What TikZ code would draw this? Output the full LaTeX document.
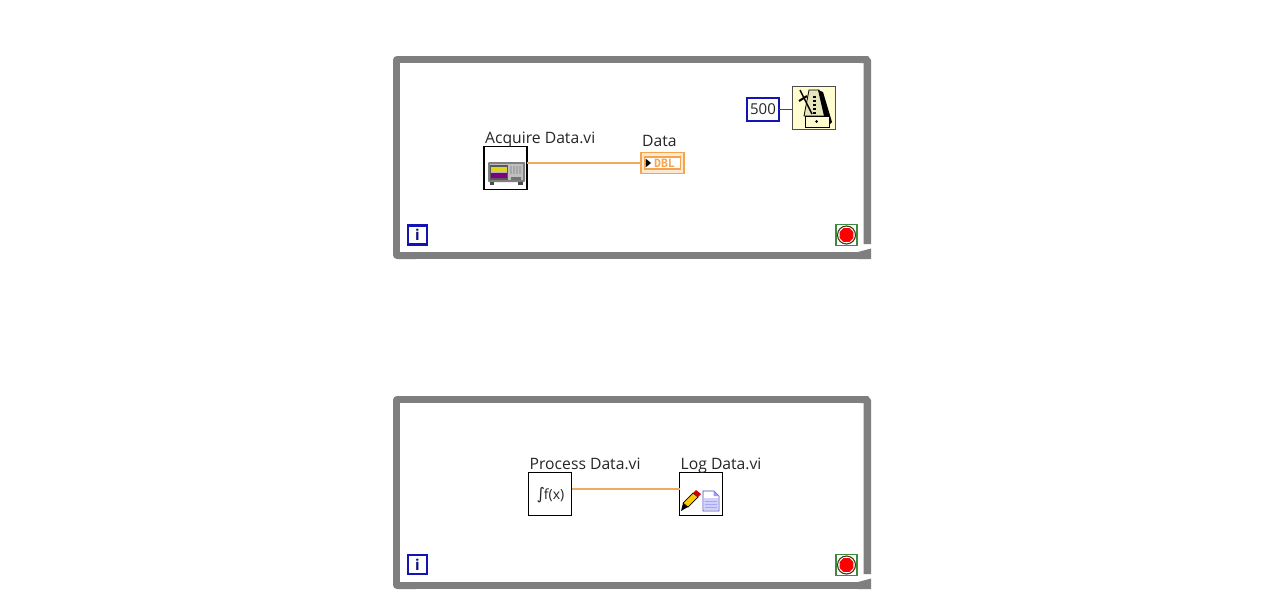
\documentclass[tikz,border=0pt]{standalone}
\usepackage{fontspec}
\setmainfont{Open Sans}
\newfontfamily\monob{DejaVu Sans Mono}
\newfontfamily\dejavu{DejaVu Sans}
\usetikzlibrary{shapes.geometric}
\definecolor{framegray}{HTML}{7F7F7F}
\definecolor{wireor}{HTML}{EFA961}
\definecolor{dblor}{HTML}{F4A54E}
\definecolor{lvblue}{HTML}{1414B4}
\definecolor{wireblue}{HTML}{1E3CFF}
\definecolor{stopgreen}{HTML}{3C8C3C}
\definecolor{metbg}{HTML}{FFFDCF}
\tikzset{
 x=1pt,y=-1pt,
 vibox/.style={draw=black,fill=white,line width=1.3pt,minimum width=43pt,minimum height=43pt,inner sep=0pt,outer sep=0pt},
 lab/.style={font=\fontsize{15.7}{16}\selectfont,inner sep=0pt,text=black!85},
 wire/.style={draw=wireor,line width=1.5pt},
 bwire/.style={draw=wireblue,line width=1.7pt},
 iterbox/.style={draw=lvblue,fill=white,line width=2.6pt,minimum width=19pt,minimum height=19pt,inner sep=0pt,outer sep=0pt,font=\bfseries\fontsize{15}{15}\selectfont,text=lvblue!70!black},
 stopbox/.style={draw=stopgreen,fill=white,line width=1.6pt,minimum width=21pt,minimum height=21pt,inner sep=0pt,outer sep=0pt},
 stopring/.style={circle,fill=white,draw=black!60!brown,line width=1.1pt,minimum size=18pt,inner sep=0pt},
 stopsign/.style={regular polygon,regular polygon sides=8,fill=red,draw=none,minimum size=15pt,inner sep=0pt},
}
\newcommand{\loopframe}[2]{%
 % rounded outer corners on the left
 \fill[framegray,rounded corners=4pt] (393,#1) rectangle (420,#1+20);
 \fill[framegray,rounded corners=4pt] (393,#2-20) rectangle (420,#2);
 \fill[white] (400,#1+7) rectangle (425,#1+25);
 \fill[white] (400,#2-25) rectangle (425,#2-7);
 % straight runs
 \fill[framegray] (393,#1+10) rectangle (400,#2-10);
 \fill[framegray] (410,#1) rectangle (868,#1+7);
 \fill[framegray] (410,#2-7) rectangle (860,#2);
 % right side, chamfered at the top, cut square at the foot
 \fill[framegray] (860,#1) -- (868,#1) -- (871,#1+4) -- (871,#2-15) -- (863.5,#2-15) -- (863.5,#1+7) -- (860,#1+7) -- cycle;
 % right end of the bottom side rises a little
 \fill[framegray] (858,#2-7) -- (871,#2-10.5) -- (871,#2) -- (858,#2) -- cycle;
}
\begin{document}
\begin{tikzpicture}
\useasboundingbox (0,0) rectangle (1280,598);
\fill[white] (0,0) rectangle (1280,598);
\loopframe{56}{259}
\loopframe{396}{589}
% top loop
\node[vibox] (acq) at (505.5,168) {};
\node[lab,anchor=base west] (acqlab) at (485,143) {Acquire Data.vi};
\node[draw=dblor,fill=dblor!25,line width=1.4pt,minimum width=43pt,minimum height=21pt,inner sep=0pt,outer sep=0pt] (dbl) at (662.5,163) {};
\node[draw=dblor,fill=white,line width=1.1pt,minimum width=36pt,minimum height=12pt,inner sep=0pt] (dblin) at (662.5,163) {};
\node[inner sep=0pt,font=\monob\bfseries\fontsize{11.5}{10}\selectfont,text=dblor] (dbltxt) at (664.5,163) {DBL};
\fill[black] (645.5,158.5) -- (651,163) -- (645.5,167.5) -- cycle;
\node[lab,anchor=base west] (datalab) at (642,146) {Data};
\draw[wire] (acq.east |- dbl.west) -- (dbl.west);
% oscilloscope icon
\fill[black!50,rounded corners=1pt] (488,162) rectangle (525,182);
\fill[black!25] (490,164) rectangle (523,180);
\fill[black!65] (490,165) rectangle (508,180);
\fill[yellow!85!black] (491,167) rectangle (507,172);
\fill[violet] (491,173) rectangle (507,178);
\fill[black!30] (491,172) rectangle (507,173);
\foreach \xx in {510,513,516,519} \fill[black!35] (\xx,166) rectangle (\xx+2,174);
\fill[black!70] (490,182) rectangle (494,185);
\fill[black!70] (518,182) rectangle (523,185);
\fill[black!55] (511,177) rectangle (521,179.5);
% wait
\node[draw=lvblue,fill=white,line width=2.6pt,minimum width=32pt,minimum height=23pt,inner sep=0pt,outer sep=0pt,font=\fontsize{15}{15}\selectfont,text=black!85] (const) at (763,109.5) {500};
\node[draw=black!70,fill=metbg,line width=1.3pt,minimum width=43pt,minimum height=43pt,inner sep=0pt,outer sep=0pt] (wait) at (814,108) {};
\draw[bwire] (const.east) -- (wait.west |- const.east);
\fill[metbg!90!black,draw=black,line width=.8pt] (809,90) -- (819,90) -- (826,116) -- (804,116) -- cycle;
\fill[black] (818,90) -- (823,92) -- (832,122) -- (829,125) -- (824,116) -- cycle;
\fill[metbg,draw=black,line width=.9pt] (805,116) rectangle (829,127);
\draw[black,line width=1.5pt] (800,90) -- (812,114);
\draw[black,line width=2pt] (799,101) -- (807,96);
\foreach \yy in {96,100,104,108,112} \fill[black] (812.5,\yy) rectangle (816,\yy+1.6);
\fill[black] (816.5,121.5) circle (1.5pt);
% bottom loop
\node[vibox] (proc) at (550,494) {};
\node[lab,anchor=base west] (proclab) at (529.5,469) {Process Data.vi};
\node[font=\fontsize{14}{14}\selectfont,inner sep=0pt,text=black!85] (fx) at (550.5,495) {{\dejavu\fontsize{16}{16}\selectfont ∫}\kern-1pt f(x)};
\node[vibox] (log) at (701,494) {};
\node[lab,anchor=base west] (loglab) at (680.5,469) {Log Data.vi};
\draw[wire] (proc.east |- 0,489) -- (log.west |- 0,489);
% pencil and paper
\fill[white,draw=blue!45!gray,line width=.7pt] (703,491) -- (714,491) -- (719,496) -- (719,511) -- (703,511) -- cycle;
\fill[blue!18] (704,498) rectangle (718,510);
\fill[blue!40] (713.5,491) -- (719,496) -- (713.5,496) -- cycle;
\foreach \yy in {501,504,507} \draw[blue!35,line width=.6pt] (705,\yy) -- (717,\yy);
\fill[black] (681,511) -- (683,503) -- (688,507) -- cycle;
\fill[yellow!60!orange,draw=black,line width=.7pt] (683,503) -- (693,493) -- (698,497) -- (688,507) -- cycle;
\fill[red!80!black] (693,493) -- (696,490) -- (701,494) -- (698,497) -- cycle;
% loop terminals
\node[iterbox] (i1) at (417.5,235) {i};
\node[iterbox] (i2) at (417.5,564.5) {i};
\node[stopbox] (s1) at (846.5,235) {};
\node[stopring] (r1) at (846.5,235) {};
\node[stopsign] (ss1) at (846.5,235) {};
\node[stopbox] (s2) at (846.5,565) {};
\node[stopring] (r2) at (846.5,565) {};
\node[stopsign] (ss2) at (846.5,565) {};
\end{tikzpicture}
\end{document}
